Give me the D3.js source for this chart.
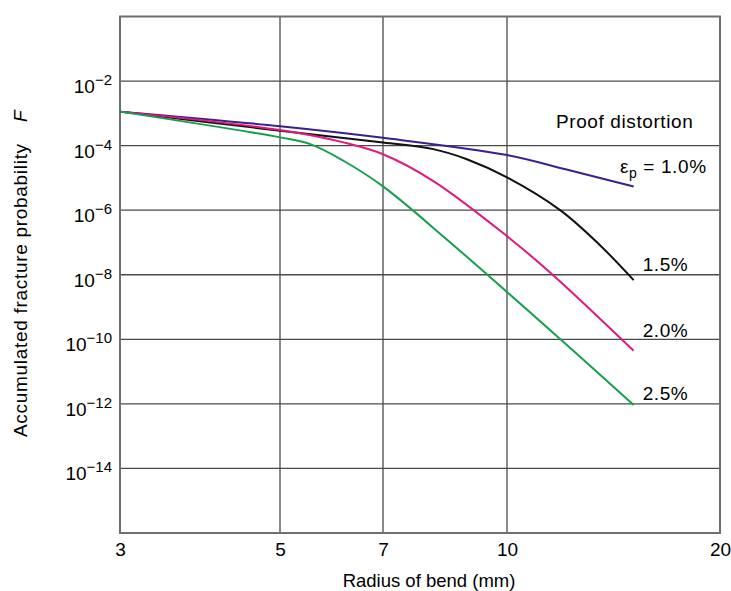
<!DOCTYPE html>
<html>
<head>
<meta charset="utf-8">
<script src="https://cdn.jsdelivr.net/npm/d3@7"></script>
<style>
  html, body { margin: 0; padding: 0; background: #fff; }
  svg { display: block; font-family: "Liberation Sans", Arial, Helvetica, sans-serif; }
</style>
</head>
<body>
<svg id="chart" width="731" height="591"></svg>
<script>
// Tick values
const radiusTicks = [3, 5, 7, 10, 20];
const radiusGrid = [5, 7, 10];
const exponentTicks = [-2, -4, -6, -8, -10, -12, -14];

// Proof distortion levels
const strainLabels = ["1.0%", "1.5%", "2.0%", "2.5%"];

// Accumulated fracture probability F versus radius of bend (mm)
const radius10 = [3.0, 5.0, 7.0, 10.0, 12.1, 15.1];
const prob10   = [1.13e-3, 4.0e-4, 1.75e-4, 5.1e-5, 1.85e-5, 5.4e-6];

const radius15 = [3.0, 5.0, 7.0, 8.09, 8.91, 10.0, 11.9, 13.5, 15.1];
const prob15   = [1.13e-3, 2.9e-4, 1.26e-4, 7.8e-5, 3.8e-5, 1.04e-5, 9.9e-7, 8.7e-8, 6.8e-9];

const radius20 = [3.0, 5.0, 6.15, 7.0, 8.09, 10.0, 11.6, 15.1];
const prob20   = [1.13e-3, 3.04e-4, 1.26e-4, 5.4e-5, 8.0e-6, 1.57e-7, 1.0e-8, 4.4e-11];

const radius25 = [3.0, 5.0, 5.52, 6.15, 7.0, 8.41, 11.9, 15.1];
const prob25   = [1.13e-3, 1.8e-4, 1.11e-4, 3.4e-5, 5.47e-6, 1.24e-7, 1.0e-10, 9.3e-13];

const seriesColors = ["#3b1f8f", "#111111", "#e0197d", "#14a04c"];

const series = [
  { label: strainLabels[0], xs: radius10, ys: prob10, color: seriesColors[0] },
  { label: strainLabels[1], xs: radius15, ys: prob15, color: seriesColors[1] },
  { label: strainLabels[2], xs: radius20, ys: prob20, color: seriesColors[2] },
  { label: strainLabels[3], xs: radius25, ys: prob25, color: seriesColors[3] }
];

const svg = d3.select("#chart");
const font = "Liberation Sans, Arial, Helvetica, sans-serif";
const ink = "#000";

// Radius axis: logarithmic between each pair of labelled radii
const radiusStops = [120, 280, 383, 507, 720];
const x = d3.scaleLog().domain(radiusTicks).range(radiusStops);
const y = d3.scaleLog().domain([1e-16, 1]).range([533, 16.5]);

const x0 = radiusStops[0], x1 = radiusStops[radiusStops.length - 1];
const [yb, yt] = y.range();

// Horizontal grid lines at every second decade
svg.append("g")
  .selectAll("line")
  .data(exponentTicks)
  .join("line")
  .attr("x1", x0).attr("x2", x1)
  .attr("y1", d => y(Math.pow(10, d))).attr("y2", d => y(Math.pow(10, d)))
  .attr("stroke", "#4a4a4a").attr("stroke-width", 1.3);

// Vertical grid lines
svg.append("g")
  .selectAll("line")
  .data(radiusGrid)
  .join("line")
  .attr("x1", d => x(d)).attr("x2", d => x(d))
  .attr("y1", yt).attr("y2", yb)
  .attr("stroke", "#4a4a4a").attr("stroke-width", 1.3);

// Plot frame
svg.append("rect")
  .attr("x", x0).attr("y", yt)
  .attr("width", x1 - x0).attr("height", yb - yt)
  .attr("fill", "none").attr("stroke", "#6e6e6e").attr("stroke-width", 2);

// Bottom axis labels
const xAxis = d3.axisBottom(x)
  .tickValues(radiusTicks)
  .tickFormat(d3.format("d"))
  .tickSize(0)
  .tickPadding(10);
const gx = svg.append("g").attr("transform", `translate(0,${yb})`).call(xAxis);
gx.select(".domain").remove();
gx.selectAll("text")
  .attr("font-family", font).attr("font-size", 19).attr("fill", ink);

// Left axis labels as powers of ten
const ylab = svg.append("g")
  .selectAll("text")
  .data(exponentTicks)
  .join("text")
  .attr("x", x0 - 8)
  .attr("y", d => y(Math.pow(10, d)) + 12)
  .attr("text-anchor", "end")
  .attr("font-size", 19)
  .attr("fill", ink);
ylab.append("tspan").text("10");
ylab.append("tspan")
  .attr("dy", -8)
  .attr("font-size", 15)
  .text(d => "\u2212" + Math.abs(d));

// Curves
const line = d3.line()
  .x(d => x(d[0]))
  .y(d => y(d[1]))
  .curve(d3.curveCatmullRom.alpha(0.5));

svg.append("g")
  .selectAll("path")
  .data(series)
  .join("path")
  .attr("d", s => line(s.xs.map((r, i) => [r, s.ys[i]])))
  .attr("fill", "none")
  .attr("stroke", s => s.color)
  .attr("stroke-width", 2)
  .attr("stroke-linejoin", "round")
  .attr("stroke-linecap", "butt");

// Curve annotations
const annot = svg.append("g").attr("font-size", 19).attr("fill", ink).attr("letter-spacing", 0.6);

annot.append("text")
  .attr("x", 556).attr("y", 128)
  .text("Proof distortion");

const epsLabel = annot.append("text").attr("x", 620).attr("y", 172.5);
epsLabel.append("tspan").text("\u03b5");
epsLabel.append("tspan").attr("font-size", 14).attr("dy", 5).text("p");
epsLabel.append("tspan").attr("dy", -5).text(" = " + strainLabels[0]);

const endOffsets = [null, -9, -14, -5];
series.forEach((s, i) => {
  if (i === 0) return;
  const last = s.xs.length - 1;
  annot.append("text")
    .attr("x", x(s.xs[last]) + 9)
    .attr("y", y(s.ys[last]) + endOffsets[i])
    .text(s.label);
});

// Axis titles
svg.append("text")
  .attr("x", 429).attr("y", 587)
  .attr("text-anchor", "middle")
  .attr("font-size", 18.5).attr("fill", ink)
  .text("Radius of bend (mm)");

svg.append("text")
  .attr("transform", "translate(27,437) rotate(-90)")
  .attr("font-size", 19).attr("fill", ink)
  .attr("letter-spacing", 0.7)
  .text("Accumulated fracture probability");

svg.append("text")
  .attr("transform", "translate(27,122) rotate(-90)")
  .attr("font-size", 19).attr("font-style", "italic").attr("fill", ink)
  .text("F");
</script>
</body>
</html>
